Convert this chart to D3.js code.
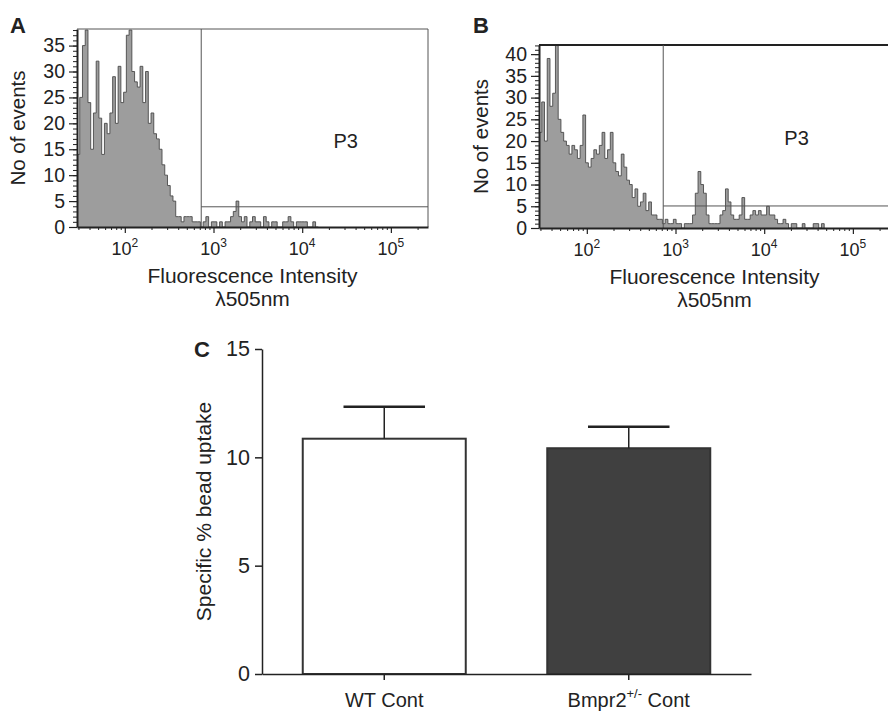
<!DOCTYPE html>
<html>
<head>
<meta charset="utf-8">
<script src="https://cdn.jsdelivr.net/npm/d3@7/dist/d3.min.js"></script>
<style>
  body { margin: 0; background: #fff; }
  svg { font-family: Arial, "Liberation Sans", Helvetica, sans-serif; }
</style>
</head>
<body>
<div id="chart"></div>
<script>
// ---- data ----
// log channel range of the cytometer display (about 10^1.46 .. 2^18), 128 channels
const xDomain = [28.9, 262144];
const nChannels = 128;
const decadeTicks = [100, 1000, 10000, 100000];

// panel A: WT, events per channel
const countsA = [14, 25, 35, 38, 24, 15, 22, 32, 21, 14, 20, 18, 22, 29, 20, 31, 24, 26, 37, 38,
  30, 28, 27, 31, 24, 30, 20, 22, 18, 17, 15, 12, 10, 8, 6, 5, 2, 2, 1, 2,
  2, 2, 1, 1, 1, 0, 1, 2, 0, 1, 1, 0, 1, 0, 1, 1, 2, 3, 5, 2,
  1, 2, 0, 1, 2, 1, 1, 0, 2, 1, 0, 1, 1, 0, 0, 1, 1, 2, 1, 0,
  1, 1, 1, 1, 0, 0, 1, 0];
const yTicksA = [0, 5, 10, 15, 20, 25, 30, 35];

// panel B: Bmpr2+/-, events per channel
const countsB = [22, 29, 20, 39, 28, 31, 42, 25, 22, 20, 19, 17, 19, 18, 16, 19, 26, 15, 14, 16,
  18, 17, 19, 22, 16, 18, 22, 15, 13, 12, 17, 14, 11, 10, 7, 9, 5, 6, 8, 4,
  6, 3, 3, 2, 2, 1, 2, 1, 1, 2, 1, 1, 0, 1, 1, 1, 3, 8, 13, 10,
  8, 3, 1, 1, 1, 1, 3, 4, 9, 6, 3, 2, 2, 3, 7, 2, 2, 3, 4, 3,
  4, 3, 3, 5, 3, 3, 2, 1, 1, 2, 1, 0, 1, 1, 0, 0, 1, 0, 0, 0,
  1, 1, 0, 1];
const yTicksB = [0, 5, 10, 15, 20, 25, 30, 35, 40];

// panel C
const groups = ['WT Cont', 'Bmpr2+/- Cont'];
const meanUptake = [10.86, 10.42];
const semUptake = [1.48, 0.99];
const yTicksC = [0, 5, 10, 15];

const ink = '#222';
const svg = d3.select('#chart').append('svg').attr('width', 888).attr('height', 713);

function drawHistogram(p) {
  const g = svg.append('g').attr('transform', `translate(${p.left},${p.top})`);
  const x = d3.scaleLog().domain(xDomain).range([0, p.width]);
  const y = d3.scaleLinear().domain([0, p.yMax]).range([p.height, 0]);

  // channel edges on the log scale
  const lo = Math.log10(xDomain[0]);
  const step = (Math.log10(xDomain[1]) - lo) / nChannels;
  const pts = p.counts.map((c, i) => ({ v: Math.pow(10, lo + i * step), c }));
  pts.push({ v: Math.pow(10, lo + p.counts.length * step), c: 0 });

  g.append('clipPath').attr('id', 'clip' + p.name)
    .append('rect').attr('width', p.width).attr('height', p.height);

  const area = d3.area().curve(d3.curveStepAfter)
    .x(d => x(d.v)).y0(y(0)).y1(d => y(d.c));
  const line = d3.line().curve(d3.curveStepAfter)
    .x(d => x(d.v)).y(d => y(d.c));

  g.append('path').datum(pts)
    .attr('clip-path', `url(#clip${p.name})`)
    .attr('fill', '#9d9d9d')
    .attr('d', area);
  g.append('path').datum(pts)
    .attr('clip-path', `url(#clip${p.name})`)
    .attr('fill', 'none')
    .attr('stroke', '#4a4a4a')
    .attr('stroke-width', 0.9)
    .attr('d', line);

  // frame top and right
  g.append('line').attr('x1', 0).attr('x2', p.width).attr('y1', 0).attr('y2', 0)
    .attr('stroke', p.topColor).attr('stroke-width', p.topWidth);
  g.append('line').attr('x1', p.width).attr('x2', p.width).attr('y1', 0).attr('y2', p.height)
    .attr('stroke', '#555').attr('stroke-width', 1);

  // P3 marker gate
  g.append('line')
    .attr('x1', x(p.gateX)).attr('x2', x(p.gateX))
    .attr('y1', 0).attr('y2', p.height)
    .attr('stroke', '#555').attr('stroke-width', 1);
  g.append('line')
    .attr('x1', x(p.gateX)).attr('x2', p.width)
    .attr('y1', y(p.gateY)).attr('y2', y(p.gateY))
    .attr('stroke', '#555').attr('stroke-width', 1);
  g.append('text')
    .attr('x', x(p.labelX)).attr('y', y(p.labelY))
    .attr('text-anchor', 'middle').attr('dominant-baseline', 'middle')
    .attr('font-size', 20).attr('fill', ink)
    .text('P3');

  // y axis: minor then major
  g.append('g')
    .call(d3.axisLeft(y).tickValues(d3.range(0, p.yMax, 1)).tickSize(4).tickFormat(''))
    .call(a => a.select('.domain').remove())
    .selectAll('line').attr('stroke', ink);
  const ya = g.append('g')
    .call(d3.axisLeft(y).tickValues(p.yTicks).tickSize(8).tickSizeOuter(0).tickPadding(4));
  ya.select('.domain').attr('stroke', ink).attr('stroke-width', 2);
  ya.selectAll('line').attr('stroke', ink).attr('stroke-width', 1.2);
  ya.selectAll('text').attr('font-size', 19.5).attr('fill', ink).attr('font-family', null);

  // x axis: minor then major
  const minor = x.ticks().filter(v => !decadeTicks.includes(v));
  g.append('g').attr('transform', `translate(0,${p.height})`)
    .call(d3.axisBottom(x).tickValues(minor).tickSize(3).tickFormat(''))
    .call(a => a.select('.domain').remove())
    .selectAll('line').attr('stroke', ink);
  const xa = g.append('g').attr('transform', `translate(0,${p.height})`)
    .call(d3.axisBottom(x).tickValues(decadeTicks).tickSize(6).tickSizeOuter(0).tickFormat(''));
  xa.select('.domain').attr('stroke', ink).attr('stroke-width', 2);
  xa.selectAll('line').attr('stroke', ink).attr('stroke-width', 1.2);

  decadeTicks.forEach(v => {
    const t = g.append('text')
      .attr('x', x(v)).attr('y', p.height + 28)
      .attr('text-anchor', 'middle').attr('font-size', 18).attr('fill', ink);
    t.append('tspan').text('10');
    t.append('tspan').attr('dy', -8).attr('font-size', 12).text(Math.round(Math.log10(v)));
  });

  // axis titles
  g.append('text')
    .attr('x', p.width / 2).attr('y', p.height + 56)
    .attr('text-anchor', 'middle').attr('font-size', 21).attr('fill', ink)
    .text('Fluorescence Intensity');
  g.append('text')
    .attr('x', p.width / 2).attr('y', p.height + 79)
    .attr('text-anchor', 'middle').attr('font-size', 21).attr('fill', ink)
    .text('λ505nm');
  g.append('text')
    .attr('transform', `translate(${p.yLabelX},${p.height / 2}) rotate(-90)`)
    .attr('text-anchor', 'middle').attr('dominant-baseline', 'middle')
    .attr('font-size', 20.5).attr('fill', ink)
    .text('No of events');

  // panel letter
  svg.append('text')
    .attr('x', p.letterX).attr('y', 33)
    .attr('font-size', 22).attr('font-weight', 'bold').attr('fill', ink)
    .text(p.name);
}

drawHistogram({
  name: 'A', left: 77, top: 29, width: 351, height: 198, yMax: 38.2,
  counts: countsA, yTicks: yTicksA, gateX: 727, gateY: 3.9,
  labelX: 31000, labelY: 16.3, topColor: '#555', topWidth: 1,
  yLabelX: -57, letterX: 10
});

drawHistogram({
  name: 'B', left: 539, top: 45, width: 351, height: 183, yMax: 42.1,
  counts: countsB, yTicks: yTicksB, gateX: 727, gateY: 5.07,
  labelX: 23200, labelY: 20.2, topColor: ink, topWidth: 2,
  yLabelX: -56, letterX: 473
});

// ---- panel C: bar chart ----
const cLeft = 262, cRight = 751, cTop = 349, cBottom = 674;
const xc = d3.scaleBand().domain(groups).range([cLeft, cRight])
  .paddingInner(1 / 3).paddingOuter(1 / 6);
const yc = d3.scaleLinear().domain([0, 15]).range([cBottom, cTop]);
const barFill = ['#ffffff', '#404040'];

const bars = svg.append('g');
groups.forEach((gName, i) => {
  bars.append('rect')
    .attr('x', xc(gName)).attr('y', yc(meanUptake[i]))
    .attr('width', xc.bandwidth()).attr('height', yc(0) - yc(meanUptake[i]))
    .attr('fill', barFill[i]).attr('stroke', '#333').attr('stroke-width', 2);
  const cx = xc(gName) + xc.bandwidth() / 2;
  const capW = xc.bandwidth() * 0.25;
  bars.append('line')
    .attr('x1', cx).attr('x2', cx)
    .attr('y1', yc(meanUptake[i])).attr('y2', yc(meanUptake[i] + semUptake[i]))
    .attr('stroke', ink).attr('stroke-width', 1.5);
  bars.append('line')
    .attr('x1', cx - capW).attr('x2', cx + capW)
    .attr('y1', yc(meanUptake[i] + semUptake[i])).attr('y2', yc(meanUptake[i] + semUptake[i]))
    .attr('stroke', ink).attr('stroke-width', 2.5);
});

const yca = svg.append('g').attr('transform', `translate(${cLeft},0)`)
  .call(d3.axisLeft(yc).tickValues(yTicksC).tickSize(7).tickSizeOuter(0).tickPadding(5));
yca.select('.domain').attr('stroke', ink).attr('stroke-width', 1.5);
yca.selectAll('line').attr('stroke', ink).attr('stroke-width', 1.5);
yca.selectAll('text').attr('font-size', 21.5).attr('fill', ink).attr('font-family', null);

const xca = svg.append('g').attr('transform', `translate(0,${cBottom})`)
  .call(d3.axisBottom(xc).tickSize(6).tickSizeOuter(0).tickFormat(''));
xca.select('.domain').attr('stroke', ink).attr('stroke-width', 1.5);
xca.selectAll('line').attr('stroke', ink).attr('stroke-width', 1.5);

// category labels (second one carries a superscript)
groups.forEach((gName, i) => {
  const t = svg.append('text')
    .attr('x', xc(gName) + xc.bandwidth() / 2).attr('y', 707)
    .attr('text-anchor', 'middle').attr('font-size', 20).attr('fill', ink);
  const m = gName.match(/^(Bmpr2)(\+\/-)( Cont)$/);
  if (m) {
    t.append('tspan').text(m[1]);
    t.append('tspan').attr('dy', -9).attr('font-size', 13).text(m[2]);
    t.append('tspan').attr('dy', 9).text(m[3]);
  } else {
    t.text(gName);
  }
});

svg.append('text')
  .attr('transform', `translate(205,${(cTop + cBottom) / 2}) rotate(-90)`)
  .attr('text-anchor', 'middle').attr('dominant-baseline', 'middle')
  .attr('font-size', 21).attr('fill', ink)
  .text('Specific % bead uptake');

svg.append('text')
  .attr('x', 194).attr('y', 357)
  .attr('font-size', 22).attr('font-weight', 'bold').attr('fill', ink)
  .text('C');
</script>
</body>
</html>
